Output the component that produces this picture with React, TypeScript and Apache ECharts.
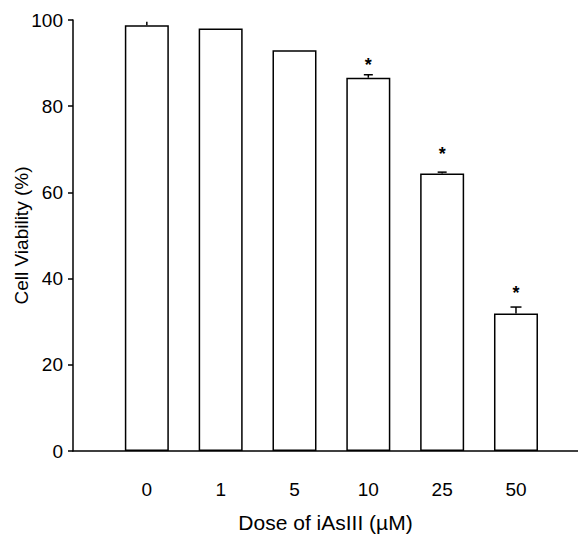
import React, { useEffect, useRef } from "react";
import * as echarts from "echarts";

const doses = ["0", "1", "5", "10", "25", "50"];
const viability = [98.8, 98.0, 93.0, 86.6, 64.4, 31.9];
const errors = [0.8, 0, 0, 0.7, 0.3, 1.5];
const starLevels = [null, null, null, 89.5, 68.8, 36.7];
const yTicks = [0, 20, 40, 60, 80, 100];

const FONT = "Liberation Sans, Arial, Helvetica, sans-serif";

export default function App() {
  const ref = useRef<HTMLDivElement>(null);
  useEffect(() => {
    if (!ref.current) return;
    const chart = echarts.init(ref.current, null, { renderer: "svg" });
    const barData = viability.map((v, i) => [i, v]);
    const errData = viability.map((v, i) => [i, v, v + errors[i]]);
    const starData = starLevels
      .map((s, i) => (s == null ? null : [i, s]))
      .filter((d) => d != null);
    chart.setOption({
      animation: false,
      backgroundColor: "#ffffff",
      grid: { left: 73, right: 0, top: 20, bottom: 83, containLabel: false, outerBoundsMode: "none" },
      xAxis: {
        type: "value",
        min: -1,
        max: 5.84,
        interval: 1,
        name: "Dose of iAsIII (\u00b5M)",
        nameLocation: "middle",
        nameGap: 61,
        nameMoveOverlap: false,
        nameTextStyle: { fontFamily: FONT, fontSize: 21, color: "#000" },
        axisLine: { show: true, onZero: false, lineStyle: { color: "#000", width: 1.5 } },
        axisTick: { show: false },
        splitLine: { show: false },
        axisLabel: {
          margin: 29,
          fontFamily: FONT,
          fontSize: 19,
          color: "#000",
          showMaxLabel: false,
          showMinLabel: false,
          formatter: (v: number) => {
            const i = Math.round(v);
            return Math.abs(v - i) < 1e-6 && doses[i] != null ? doses[i] : "";
          },
        },
      },
      yAxis: {
        type: "value",
        min: 0,
        max: 100,
        interval: 20,
        name: "Cell Viability (%)",
        nameLocation: "middle",
        nameGap: 42,
        nameRotate: 90,
        nameMoveOverlap: false,
        nameTextStyle: { fontFamily: FONT, fontSize: 19, color: "#000" },
        axisLine: { show: true, onZero: false, lineStyle: { color: "#000", width: 1.5 } },
        axisTick: { show: true, inside: false, length: 5, lineStyle: { color: "#000", width: 1.5 } },
        splitLine: { show: false },
        axisLabel: {
          margin: 10,
          fontFamily: FONT,
          fontSize: 19,
          color: "#000",
          formatter: (v: number) => (yTicks.includes(v) ? String(v) : ""),
        },
      },
      series: [
        {
          type: "bar",
          data: barData,
          barWidth: 44,
          itemStyle: { color: "#ffffff", borderColor: "#000", borderWidth: 1.5 },
          z: 2,
        },
        {
          type: "custom",
          data: errData,
          z: 3,
          renderItem: (params: any, api: any) => {
            const x = api.value(0);
            const lo = api.coord([x, api.value(1)]);
            const hi = api.coord([x, api.value(2)]);
            if (Math.abs(hi[1] - lo[1]) < 0.5) return { type: "group", children: [] };
            const idx = params.dataIndex;
            const cap = idx === 0 ? 0 : idx === 5 ? 5.5 : 4.5;
            const children: any[] = [
              { type: "line", shape: { x1: lo[0], y1: lo[1], x2: hi[0], y2: hi[1] }, style: { stroke: "#000", lineWidth: 1.5 } },
            ];
            if (cap > 0)
              children.push({ type: "line", shape: { x1: hi[0] - cap, y1: hi[1], x2: hi[0] + cap, y2: hi[1] }, style: { stroke: "#000", lineWidth: 1.5 } });
            return { type: "group", children };
          },
        },
        {
          type: "custom",
          data: starData,
          z: 4,
          renderItem: (params: any, api: any) => {
            const p = api.coord([api.value(0), api.value(1)]);
            return {
              type: "text",
              x: p[0],
              y: p[1],
              style: {
                text: "*",
                fontFamily: FONT,
                fontSize: 18,
                fontWeight: "bold",
                fill: "#000",
                align: "center",
                verticalAlign: "middle",
              },
            };
          },
        },
      ],
    });
    return () => chart.dispose();
  }, []);
  return <div ref={ref} style={{ position: "fixed", left: 0, top: 0, width: 578, height: 534 }} />;
}
